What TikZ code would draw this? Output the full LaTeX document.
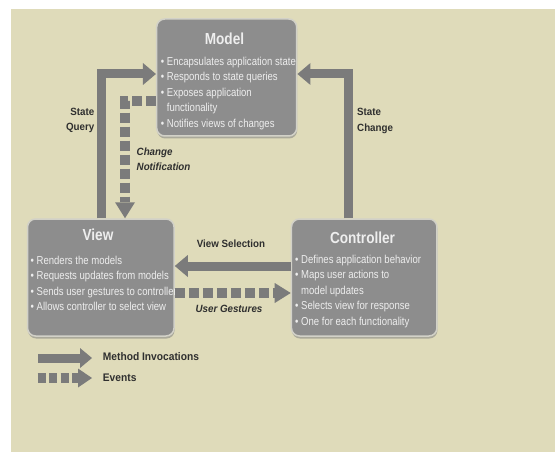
\documentclass[tikz,border=0pt]{standalone}
\usepackage{fontspec}
\setmainfont{Liberation Sans}
\newfontfamily\boxfont{Liberation Sans}[FakeStretch=0.83]
\newfontfamily\headfont{Liberation Sans}[FakeStretch=0.85]
\newfontfamily\tagfont{Liberation Sans}[FakeStretch=0.93]
\usetikzlibrary{arrows.meta, positioning, shadows}

\definecolor{paper}{HTML}{DFDBBA}
\definecolor{boxgray}{HTML}{8D8D8D}
\definecolor{flowgray}{HTML}{7B7B7B}
\definecolor{rim}{HTML}{D2D1C8}
\definecolor{boxtext}{HTML}{EEEEEE}
\definecolor{tagtext}{HTML}{2F2F2F}

\begin{document}
\begin{tikzpicture}[x=1pt, y=-1pt,
  box/.style={draw=rim, line width=1.5pt, fill=boxgray, rounded corners=8pt,
    drop shadow={opacity=.55, shadow xshift=.5pt, shadow yshift=-2.5pt}},
  boxtitle/.style={text=boxtext, inner sep=0pt,
    font=\headfont\bfseries\fontsize{16}{18}\selectfont},
  boxitems/.style={text=boxtext, inner sep=0pt, align=left, anchor=north west,
    font=\boxfont\fontsize{11.5}{15.5}\selectfont},
  tag/.style={text=tagtext, inner sep=0pt,
    font=\tagfont\bfseries\fontsize{10.5}{15.5}\selectfont},
  call/.style={draw=flowgray, line width=9pt,
    -{Triangle[length=13pt, width=22pt, line width=0pt]}},
  event/.style={draw=flowgray, line width=10pt, dash pattern=on 10pt off 4pt,
    -{Triangle[length=16pt, width=20pt, line width=0pt]}}]

  \useasboundingbox (0,0) rectangle (555,452);
  \fill[white] (0,0) rectangle (555,452);
  \fill[paper] (11,9) rectangle (555,452);

  % the three components
  \node[box, minimum width=140pt, minimum height=117pt] (model) at (226.7,77.5) {};
  \node[box, minimum width=146.5pt, minimum height=117pt] (view) at (100.8,277.5) {};
  \node[box, minimum width=145.5pt, minimum height=117pt] (controller) at (364.2,277.5) {};

  \node[boxtitle] (modeltitle) at (224.5,38.5) {Model};
  \node[boxitems] (modelitems) at (160.7,56.7) {%
    • Encapsulates application state\\
    • Responds to state queries\\
    • Exposes application\\
    \phantom{• }functionality\\
    • Notifies views of changes};

  \node[boxtitle] (viewtitle) at (98,235) {View};
  \node[boxitems] (viewitems) at (30.5,255.7) {%
    • Renders the models\\
    • Requests updates from models\\
    • Sends user gestures to controller\\
    • Allows controller to select view};

  \node[boxtitle] (controllertitle) at (362.5,237.5) {Controller};
  \node[boxitems] (controlleritems) at (295,254.7) {%
    • Defines application behavior\\
    • Maps user actions to\\
    \phantom{• }model updates\\
    • Selects view for response\\
    • One for each functionality};

  % bends of the routed arrows
  \coordinate (qbend) at (101,74);
  \coordinate (cbend) at (348,74);
  \coordinate (nbend) at (125,101.5);

  \draw[call] (view.north -| qbend) -- (qbend) -- (model.west |- qbend);
  \draw[call] (controller.north -| cbend) -- (cbend) -- (model.east |- cbend);
  \draw[event] (model.west |- nbend) -- (nbend) -- (view.north -| nbend);
  \draw[call] ([yshift=11.5pt]controller.west) -- ([yshift=11.5pt]view.east);
  \draw[event] ([yshift=-15.5pt]view.east) -- ([yshift=-15.5pt]controller.west);

  \node[tag, align=right, anchor=east] (querytag) at (94.5,120.5) {State\\Query};
  \node[tag, align=left, anchor=west] (changetag) at (357,121) {State\\Change};
  \node[tag, align=left, anchor=west, font=\tagfont\bfseries\itshape\fontsize{10.5}{15.5}\selectfont]
    (notifytag) at (136.5,159) {Change\\Notification};
  \node[tag] (selecttag) at (231,244) {View Selection};
  \node[tag, font=\tagfont\bfseries\itshape\fontsize{10.5}{15.5}\selectfont]
    (gesturetag) at (229,308.5) {User Gestures};

  % legend
  \node[tag, anchor=west, font=\tagfont\bfseries\fontsize{11}{13}\selectfont]
    (methodtag) at (102.7,357) {Method Invocations};
  \node[tag, anchor=west, font=\tagfont\bfseries\fontsize{11}{13}\selectfont]
    (eventtag) at (102.7,377.5) {Events};
  \coordinate (mstart) at (38,358);
  \coordinate (mend) at (92,358);
  \coordinate (estart) at (37.5,378);
  \coordinate (eend) at (92,378);
  \draw[call, -{Triangle[length=12pt, width=20pt, line width=0pt]}] (mstart) -- (mend);
  \draw[event, dash pattern=on 8pt off 3.5pt,
    -{Triangle[length=14pt, width=19pt, line width=0pt]}] (estart) -- (eend);
\end{tikzpicture}
\end{document}
